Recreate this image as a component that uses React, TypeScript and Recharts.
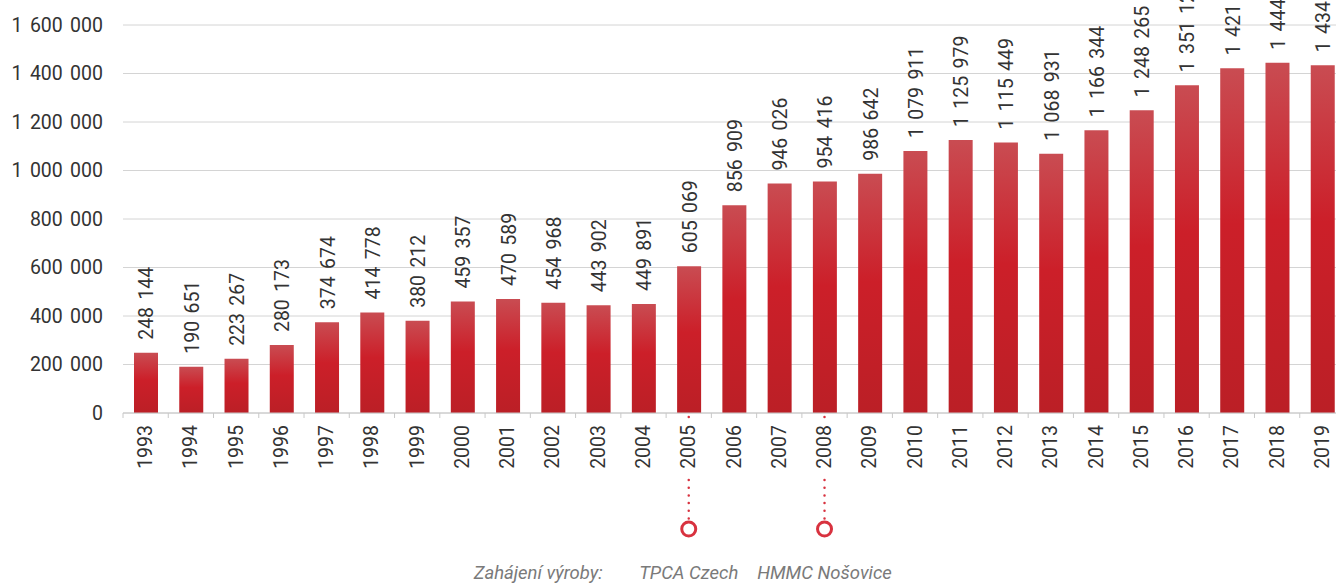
import { Bar, BarChart, CartesianGrid, LabelList, XAxis, YAxis } from 'recharts';

// roky a produkce osobních aut
const years = [
  '1993', '1994', '1995', '1996', '1997', '1998', '1999', '2000', '2001', '2002',
  '2003', '2004', '2005', '2006', '2007', '2008', '2009', '2010', '2011', '2012',
  '2013', '2014', '2015', '2016', '2017', '2018', '2019',
];
const production = [
  248144, 190651, 223267, 280173, 374674, 414778, 380212, 459357, 470589, 454968,
  443902, 449891, 605069, 856909, 946026, 954416, 986642, 1079911, 1125979, 1115449,
  1068931, 1166344, 1248265, 1351123, 1421335, 1444230, 1434117,
];
const yTicks = [0, 200000, 400000, 600000, 800000, 1000000, 1200000, 1400000, 1600000];

// zahájení výroby
const milestoneYears = ['2005', '2008'];
const milestoneNames = ['TPCA Czech', 'HMMC Nošovice'];
const milestoneCaption = 'Zahájení výroby:';

const data = years.map((year, i) => ({ year, value: production[i] }));

const CHART_W = 1345;
const CHART_H = 583;
const Y_AXIS_W = 123;
const BAND = (CHART_W - Y_AXIS_W) / years.length;
const RED = '#d8323f';
const FONT = 'Roboto, sans-serif';
const FS = 19.5;
const GAP = 2.5;

const fmt = (v: number) => String(v).replace(/\B(?=(\d{3})+(?!\d))/g, ' ');

const YearTick = (props: any) => {
  const { x, y, payload, index } = props;
  const m = milestoneYears.indexOf(payload.value);
  const left = x - BAND / 2;
  return (
    <g>
      <line x1={left} y1={y} x2={left} y2={y + 5} stroke="#c8c8c8" />
      {index === years.length - 1 && (
        <line x1={x + BAND / 2} y1={y} x2={x + BAND / 2} y2={y + 5} stroke="#c8c8c8" />
      )}
      {m >= 0 && (
        <g>
          <line x1={x} y1={y + 4} x2={x} y2={y + 11} stroke={RED} strokeWidth={2.5}
            strokeLinecap="round" strokeDasharray="0 7.5" />
          <line x1={x} y1={y + 67} x2={x} y2={y + 108} stroke={RED} strokeWidth={2.5}
            strokeLinecap="round" strokeDasharray="0 7.7" />
          <circle cx={x} cy={y + 116} r={7} fill="#fff" stroke={RED} strokeWidth={3} />
          <text x={x} y={y + 166} textAnchor="middle" fill="#7a7a7a" fontSize={18.5}
            fontStyle="italic" fontFamily={FONT}>
            {milestoneNames[m]}
          </text>
          {m === 0 && (
            <text x={x - 86} y={y + 166} textAnchor="end" fill="#7a7a7a" fontSize={18.5}
              fontStyle="italic" fontFamily={FONT}>
              {milestoneCaption}
            </text>
          )}
        </g>
      )}
      <text x={x} y={y + 12} transform={`rotate(-90, ${x}, ${y + 12})`} textAnchor="end"
        dominantBaseline="central" fill="#333" fontSize={FS} fontFamily={FONT}>
        {payload.value}
      </text>
    </g>
  );
};

const ValueLabel = (props: any) => {
  const { x, y, width, value } = props;
  const cx = x + width / 2 + 1;
  const cy = y - 13;
  return (
    <text x={cx} y={cy} transform={`rotate(-90, ${cx}, ${cy})`} textAnchor="start"
      dominantBaseline="central" fill="#333" fontSize={FS} fontFamily={FONT}
      style={{ wordSpacing: GAP }}>
      {fmt(value)}
    </text>
  );
};

export default function App() {
  return (
    <div style={{ position: 'absolute', left: 0, top: 0, width: 1336, height: 583, overflow: 'hidden', background: '#fff' }}>
      <BarChart width={CHART_W} height={CHART_H} data={data}
        margin={{ top: 25, right: 0, bottom: 0, left: 0 }} barCategoryGap={0}>
        <defs>
          <linearGradient id="barRed" x1="0" y1="0" x2="0" y2="1">
            <stop offset="0%" stopColor="#c94c52" />
            <stop offset="45%" stopColor="#cc1f29" />
            <stop offset="100%" stopColor="#bb1f26" />
          </linearGradient>
        </defs>
        <CartesianGrid vertical={false} stroke="#d4d4d4" />
        <XAxis dataKey="year" height={170} interval={0} tickLine={false} tickSize={0}
          tickMargin={0} axisLine={{ stroke: '#c8c8c8' }} tick={<YearTick />} />
        <YAxis width={Y_AXIS_W} domain={[0, 1600000]} ticks={yTicks} axisLine={false}
          tickLine={false} tickMargin={14} tickFormatter={fmt}
          tick={{ fill: '#333', fontSize: FS, fontFamily: FONT, style: { wordSpacing: GAP } }} />
        <Bar dataKey="value" fill="url(#barRed)" barSize={24} isAnimationActive={false}>
          <LabelList dataKey="value" content={<ValueLabel />} />
        </Bar>
      </BarChart>
    </div>
  );
}
